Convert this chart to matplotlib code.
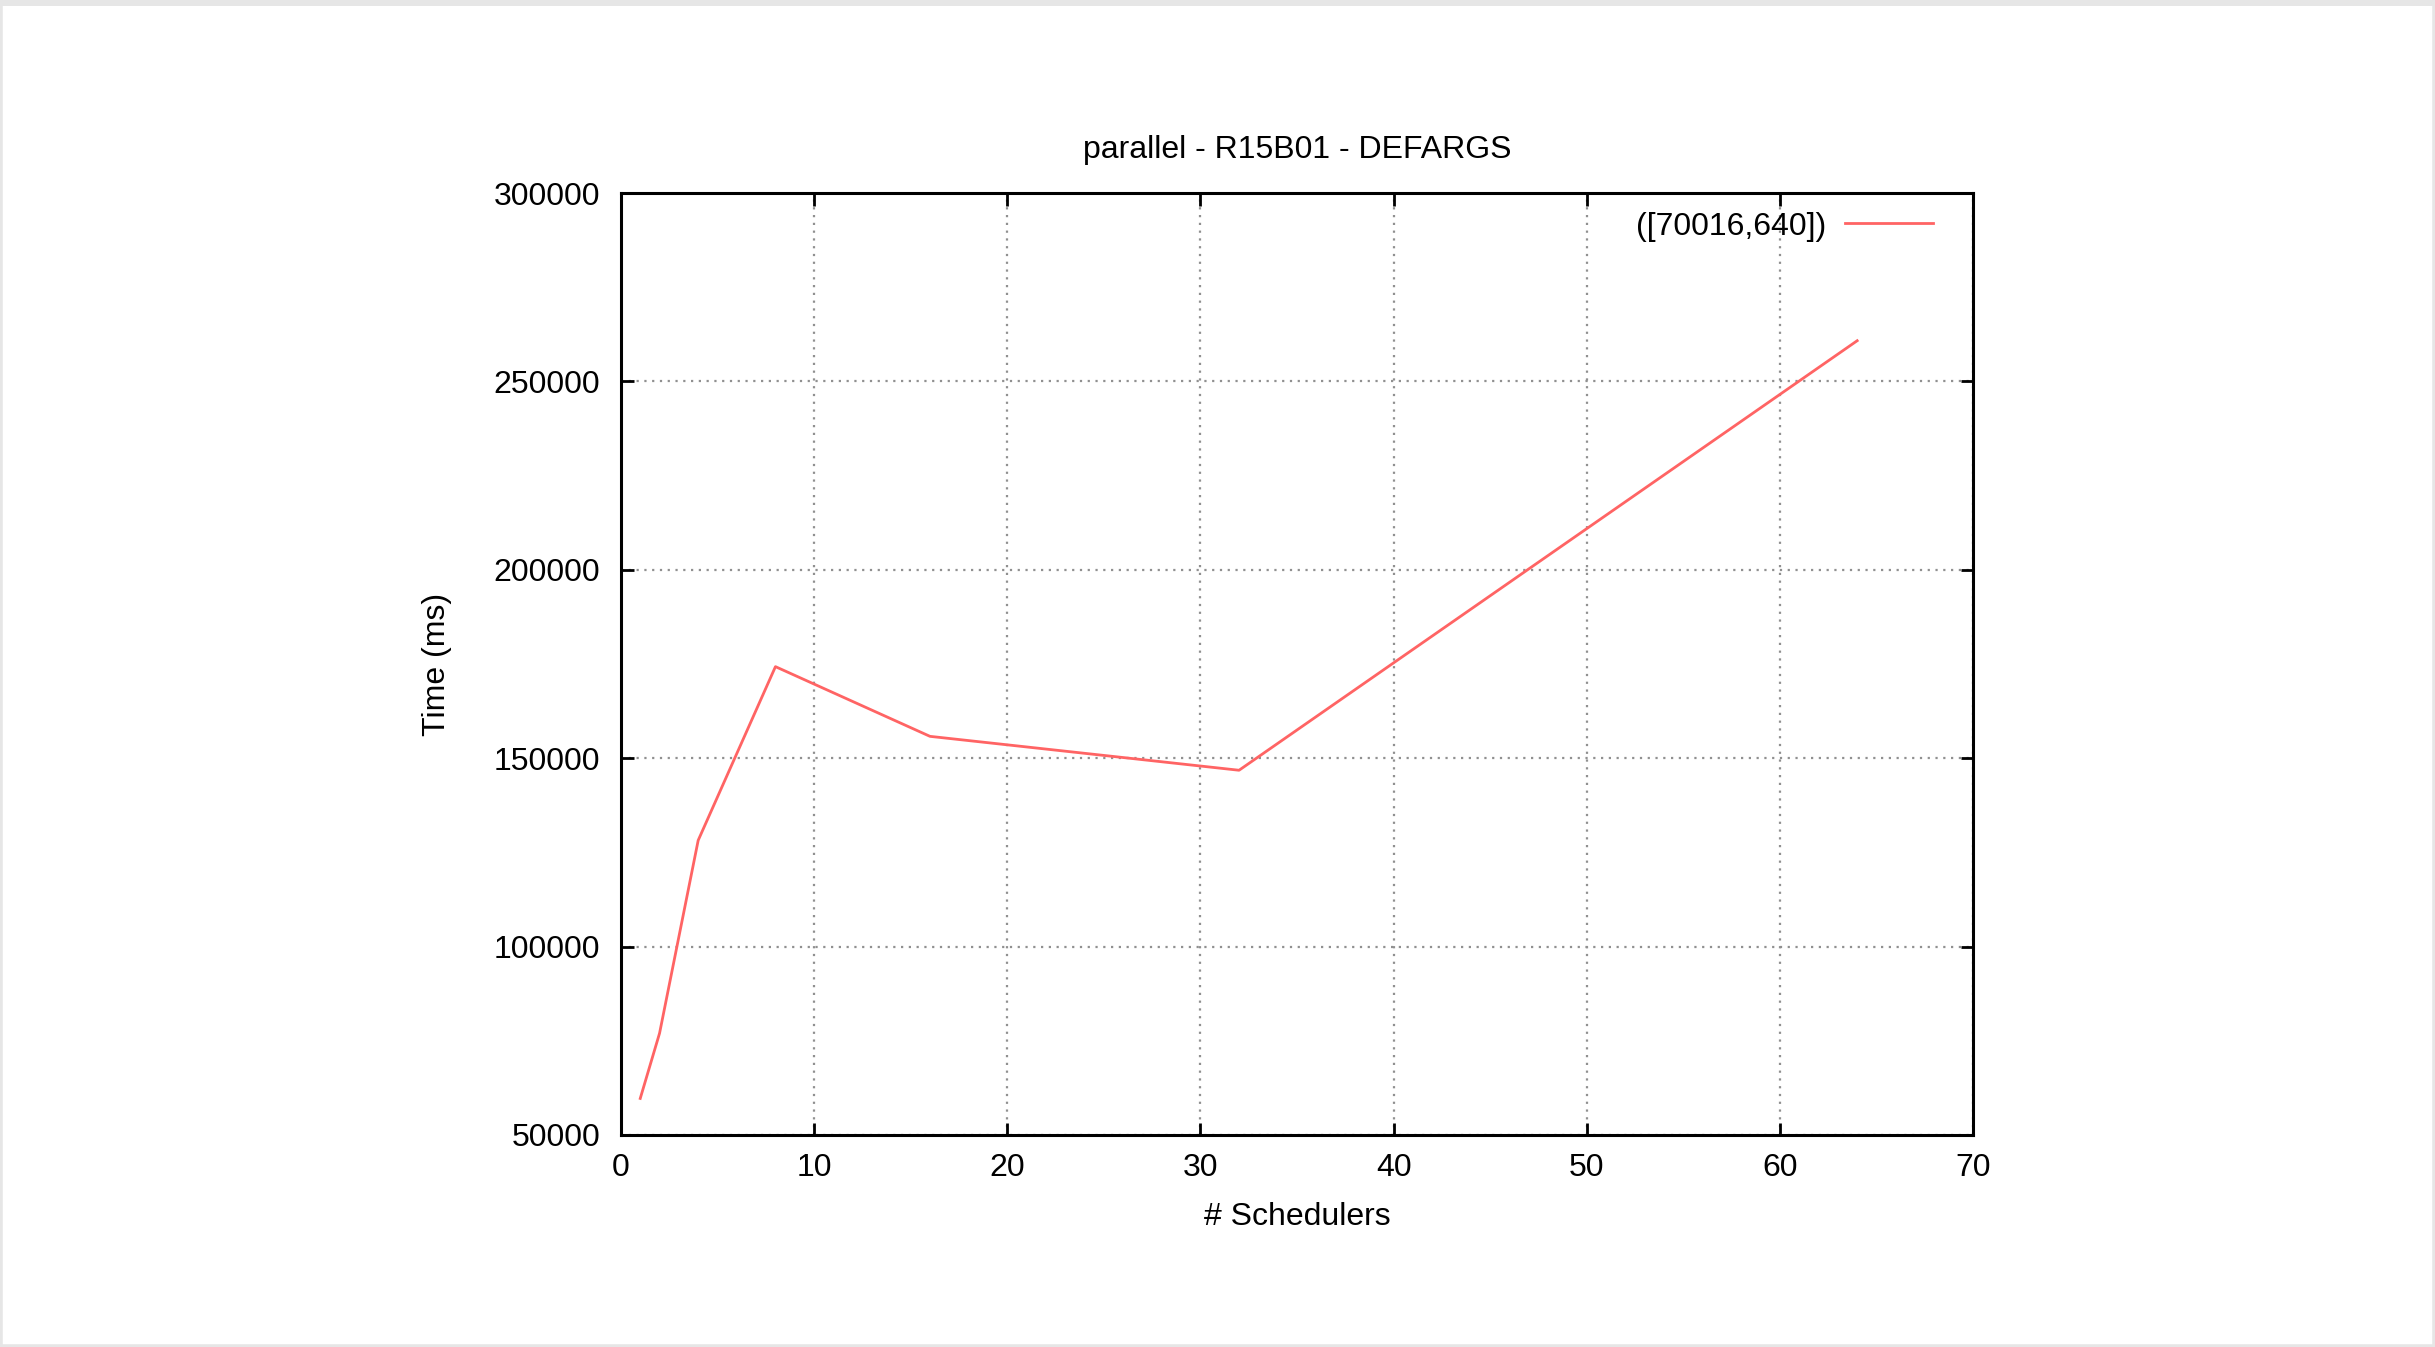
import matplotlib.pyplot as plt
from matplotlib.patches import Rectangle

schedulers = [1, 2, 4, 8, 16, 32, 64]
time_ms = [59700, 77000, 128200, 174300, 155800, 146800, 260800]
series_label = '([70016,640])'
title = 'parallel - R15B01 - DEFARGS'

plt.rcParams['font.family'] = ['Liberation Sans', 'DejaVu Sans']

fig = plt.figure(figsize=(24.35, 13.47), dpi=100)
# light gray frame of the screenshot
fig.patches.append(Rectangle((0, 0), 1, 1, transform=fig.transFigure, fill=False,
                             edgecolor='#e6e6e6', linewidth=4, zorder=0))
fig.patches.append(Rectangle((0, 1 - 6 / 1347), 1, 6 / 1347, transform=fig.transFigure,
                             facecolor='#e6e6e6', edgecolor='none', zorder=0))

ax = fig.add_axes([0.2550, 0.1574, 0.5553, 0.6993])
ax.plot(schedulers, time_ms, color='#ff6464', linewidth=2.0, label=series_label)

ax.set_xlim(0, 70)
ax.set_ylim(50000, 300000)
ax.set_xticks(range(0, 71, 10))
ax.set_yticks(range(50000, 300001, 50000))
ax.grid(True, color='#909090', linestyle=(0, (1, 2.5)), linewidth=1.6)

for s in ax.spines.values():
    s.set_linewidth(2.2)
ax.tick_params(direction='in', length=9, width=2, labelsize=23, top=True, right=True,
               colors='black')
ax.tick_params(axis='x', pad=13)
ax.tick_params(axis='y', pad=15)

ax.set_title(title, fontsize=23, pad=25)
ax.set_xlabel('# Schedulers', fontsize=23, labelpad=14)
ax.set_ylabel('Time (ms)', fontsize=23, labelpad=30)

ax.legend(loc='upper right', bbox_to_anchor=(0.987, 1.004), frameon=False,
          markerfirst=False, fontsize=23, handlelength=2.76, handletextpad=0.6,
          borderaxespad=0.3)

fig.savefig('out.png', dpi=100)
